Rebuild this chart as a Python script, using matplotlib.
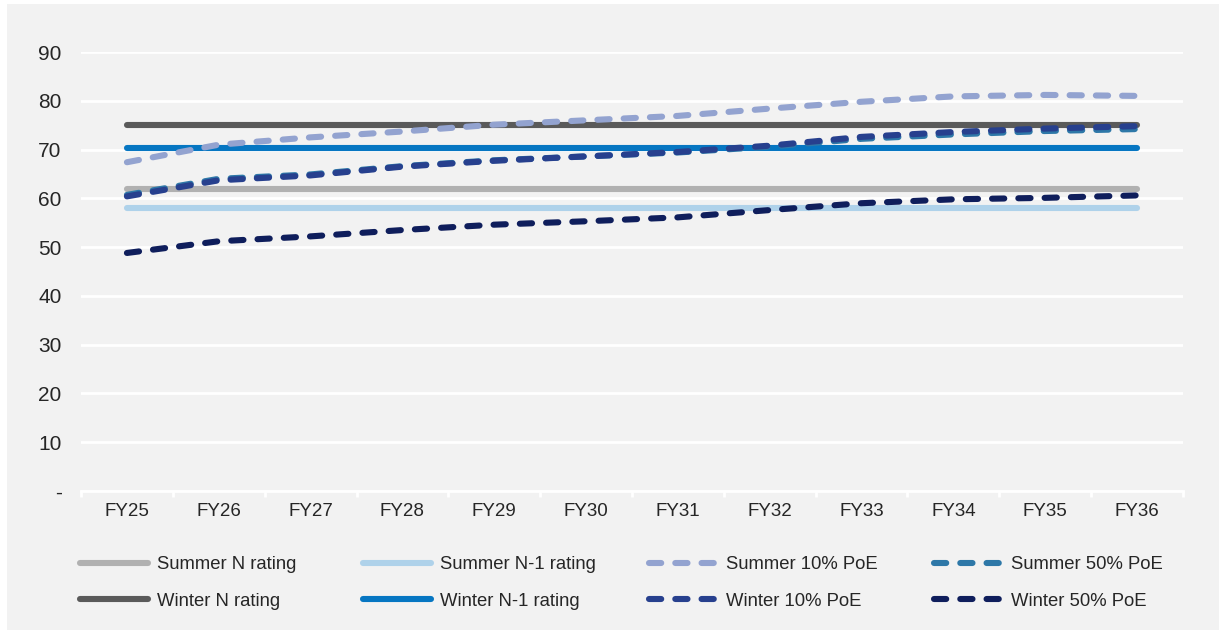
import matplotlib
matplotlib.use("Agg")
import matplotlib.pyplot as plt
from matplotlib.patches import Rectangle
from matplotlib.lines import Line2D

# ---- data -------------------------------------------------------------
years = ["FY25", "FY26", "FY27", "FY28", "FY29", "FY30",
         "FY31", "FY32", "FY33", "FY34", "FY35", "FY36"]

summer_n_rating = [61.9] * 12
summer_n1_rating = [58.0] * 12
winter_n_rating = [75.0] * 12
winter_n1_rating = [70.3] * 12

summer_10_poe = [67.4, 71.0, 72.5, 73.7, 75.1, 76.0, 76.9, 78.4, 79.8, 80.9, 81.2, 81.0]
summer_50_poe = [60.7, 64.0, 64.9, 66.6, 67.8, 68.6, 69.4, 70.6, 72.2, 73.1, 73.8, 74.2]
winter_10_poe = [60.4, 63.7, 64.7, 66.5, 67.7, 68.6, 69.5, 70.8, 72.6, 73.6, 74.3, 74.8]
winter_50_poe = [48.8, 51.2, 52.2, 53.5, 54.6, 55.3, 56.1, 57.6, 59.0, 59.8, 60.1, 60.6]

yticks = [0, 10, 20, 30, 40, 50, 60, 70, 80, 90]
ytick_labels = ["-", "10", "20", "30", "40", "50", "60", "70", "80", "90"]

# ---- styles -------------------------------------------------------------
C_SUM_N = "#b1b1b1"
C_SUM_N1 = "#afd2ea"
C_SUM_10 = "#93a3d0"
C_SUM_50 = "#2e78a8"
C_WIN_N = "#5a5a5a"
C_WIN_N1 = "#0676c2"
C_WIN_10 = "#27408e"
C_WIN_50 = "#0f1e5c"
TEXT = "#262626"
BG = "#f2f2f2"

plt.rcParams["font.family"] = ["Liberation Sans", "DejaVu Sans"]

W, H = 1219, 630
fig = plt.figure(figsize=(W / 100, H / 100), dpi=100, facecolor="white")
fig.patches.append(Rectangle((7 / W, 0), 1 - 7 / W, 1 - 4 / H,
                             transform=fig.transFigure, facecolor=BG,
                             edgecolor="none", zorder=-10))

ax_left, ax_right = 81 / W, 1183 / W
ax_bottom, ax_top = 1 - 491 / H, 1 - 52 / H
ax = fig.add_axes([ax_left, ax_bottom, ax_right - ax_left, ax_top - ax_bottom])
ax.set_facecolor("none")

x = list(range(len(years)))
LW = 4.4
DASH = (2.0, 2.3)
solid_kw = dict(lw=LW, solid_capstyle="round", clip_on=False)
dash_kw = dict(lw=LW, dash_capstyle="round", dashes=DASH, clip_on=False)

series = [
    ("Summer N rating", summer_n_rating, C_SUM_N, solid_kw),
    ("Summer N-1 rating", summer_n1_rating, C_SUM_N1, solid_kw),
    ("Winter N rating", winter_n_rating, C_WIN_N, solid_kw),
    ("Winter N-1 rating", winter_n1_rating, C_WIN_N1, solid_kw),
    ("Summer 10% PoE", summer_10_poe, C_SUM_10, dash_kw),
    ("Summer 50% PoE", summer_50_poe, C_SUM_50, dash_kw),
    ("Winter 10% PoE", winter_10_poe, C_WIN_10, dash_kw),
    ("Winter 50% PoE", winter_50_poe, C_WIN_50, dash_kw),
]
handles = {}
for i, (name, vals, col, kw) in enumerate(series):
    ln, = ax.plot(x, vals, color=col, zorder=3 + i, **kw)
    handles[name] = ln

ax.set_xlim(-0.5, len(years) - 0.5)
ax.set_ylim(0, 90)
ax.set_yticks(yticks)
ax.set_yticklabels(ytick_labels)
ax.set_xticks(x)
ax.set_xticklabels(years)
ax.set_xticks([i - 0.5 for i in range(len(years) + 1)], minor=True)

ax.grid(axis="y", color="white", lw=2.0, zorder=0)
ax.set_axisbelow(True)
for s in ["top", "right", "left"]:
    ax.spines[s].set_visible(False)
ax.spines["bottom"].set_color("white")
ax.spines["bottom"].set_linewidth(2.0)

ax.tick_params(axis="y", length=0, pad=14, labelsize=15, labelcolor=TEXT)
ax.tick_params(axis="x", which="major", length=0, pad=9, labelsize=13.5, labelcolor=TEXT)
ax.tick_params(axis="x", which="minor", length=4, width=2, color="white")

# ---- legend: four equal-width columns -------------------------------------
columns = [
    (80, ["Summer N rating", "Winter N rating"]),
    (363, ["Summer N-1 rating", "Winter N-1 rating"]),
    (649, ["Summer 10% PoE", "Winter 10% PoE"]),
    (934, ["Summer 50% PoE", "Winter 50% PoE"]),
]
for xpix, names in columns:
    hs = []
    for n in names:
        src = handles[n]
        h = Line2D([], [], color=src.get_color(), lw=LW,
                   linestyle=src.get_linestyle(),
                   solid_capstyle="round", dash_capstyle="round")
        if src.get_linestyle() != "-":
            h.set_dashes(DASH)
        hs.append(h)
    fig.legend(hs, names, loc="upper left",
               bbox_to_anchor=(xpix / W, 1 - 556 / H),
               frameon=False, fontsize=13.3, labelcolor=TEXT,
               handlelength=3.7, handletextpad=0.45,
               labelspacing=1.07, borderpad=0, borderaxespad=0)

fig.savefig("out.png", dpi=100, facecolor="white")
